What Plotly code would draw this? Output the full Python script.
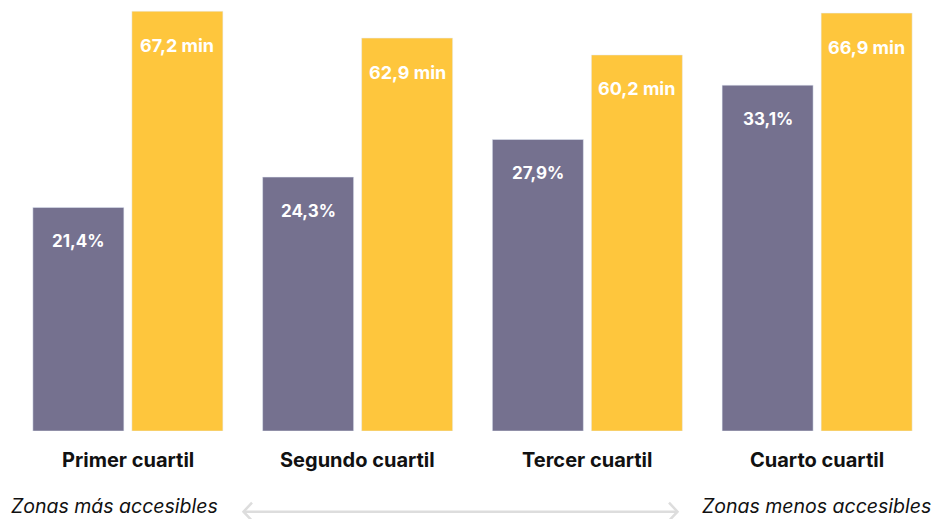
import plotly.graph_objects as go

categories = ["Primer cuartil", "Segundo cuartil", "Tercer cuartil", "Cuarto cuartil"]
pct_values = [21.4, 24.3, 27.9, 33.1]
min_values = [67.2, 62.9, 60.2, 66.9]
pct_labels = ["21,4%", "24,3%", "27,9%", "33,1%"]
min_labels = ["67,2 min", "62,9 min", "60,2 min", "66,9 min"]
left_note = "Zonas más accesibles"
right_note = "Zonas menos accesibles"

PURPLE = "#75718f"
YELLOW = "#fec63d"
FONT = "Inter"

W, H = 946, 519
ML, MR, MT, MB = 13, 14, 0, 88
PW = W - ML - MR
PH = H - MT - MB

fig = go.Figure()
fig.add_trace(go.Bar(x=categories, y=pct_values, marker_color=PURPLE, offsetgroup="a",
                     yaxis="y", hoverinfo="skip", showlegend=False))
fig.add_trace(go.Bar(x=categories, y=min_values, marker_color=YELLOW, offsetgroup="b",
                     yaxis="y2", hoverinfo="skip", showlegend=False))

annotations = []
slot_px = 99 / 2
for c, v, t in zip(categories, pct_values, pct_labels):
    annotations.append(dict(x=c, y=v, yref="y", xref="x", text=f"<b>{t}</b>", showarrow=False,
                            xshift=-slot_px, yshift=-34, yanchor="middle", xanchor="center",
                            font=dict(family=FONT, size=17, color="white")))
for c, v, t in zip(categories, min_values, min_labels):
    annotations.append(dict(x=c, y=v, yref="y2", xref="x", text=f"<b>{t}</b>", showarrow=False,
                            xshift=slot_px, yshift=-34, yanchor="middle", xanchor="center",
                            font=dict(family=FONT, size=18, color="white")))
for c in categories:
    annotations.append(dict(x=c, y=0, yref="paper", xref="x", text=f"<b>{c}</b>", showarrow=False,
                            yshift=-29, yanchor="middle", xanchor="center",
                            font=dict(family=FONT, size=20, color="#111111")))

def px_to_paper_x(px):
    return (px - ML) / PW

def px_to_paper_y(py):
    return (MT + PH - py) / PH

annotations.append(dict(x=px_to_paper_x(114), y=px_to_paper_y(506), xref="paper", yref="paper",
                        text=f"<i>{left_note}</i>", showarrow=False, xanchor="center", yanchor="middle",
                        font=dict(family=FONT, size=19.5, color="#111111")))
annotations.append(dict(x=px_to_paper_x(816), y=px_to_paper_y(506), xref="paper", yref="paper",
                        text=f"<i>{right_note}</i>", showarrow=False, xanchor="center", yanchor="middle",
                        font=dict(family=FONT, size=19.5, color="#111111")))

ay = 511.7
shapes = []
line_style = dict(color="#dddddd", width=2.5)
shapes.append(dict(type="line", xref="paper", yref="paper",
                   x0=px_to_paper_x(244), x1=px_to_paper_x(677), y0=px_to_paper_y(ay), y1=px_to_paper_y(ay),
                   line=line_style, layer="above"))
def chev(points):
    return "M " + " L ".join(f"{px_to_paper_x(a)},{px_to_paper_y(b)}" for a, b in points)
shapes.append(dict(type="path", xref="paper", yref="paper",
                   path=chev([(252, ay - 9), (243.5, ay), (252, ay + 9)]), line=line_style))
shapes.append(dict(type="path", xref="paper", yref="paper",
                   path=chev([(669, ay - 9), (677.5, ay), (669, ay + 9)]), line=line_style))

fig.update_layout(
    width=W, height=H,
    margin=dict(l=ML, r=MR, t=MT, b=MB, pad=0),
    paper_bgcolor="white", plot_bgcolor="white",
    barmode="group", bargap=0.138, bargroupgap=0.081,
    hovermode=False,
    xaxis=dict(showticklabels=False, showgrid=False, zeroline=False, showline=False, ticks="",
               range=[-0.5, 3.5]),
    yaxis=dict(range=[0, 41.25], visible=False, showgrid=False, zeroline=False),
    yaxis2=dict(range=[0, 69.0], visible=False, showgrid=False, zeroline=False,
                overlaying="y", side="right"),
    annotations=annotations,
    shapes=shapes,
)

fig.write_html("out.html", config={"displayModeBar": False},
               post_script="document.body.style.margin='0';document.body.style.overflow='hidden';")
